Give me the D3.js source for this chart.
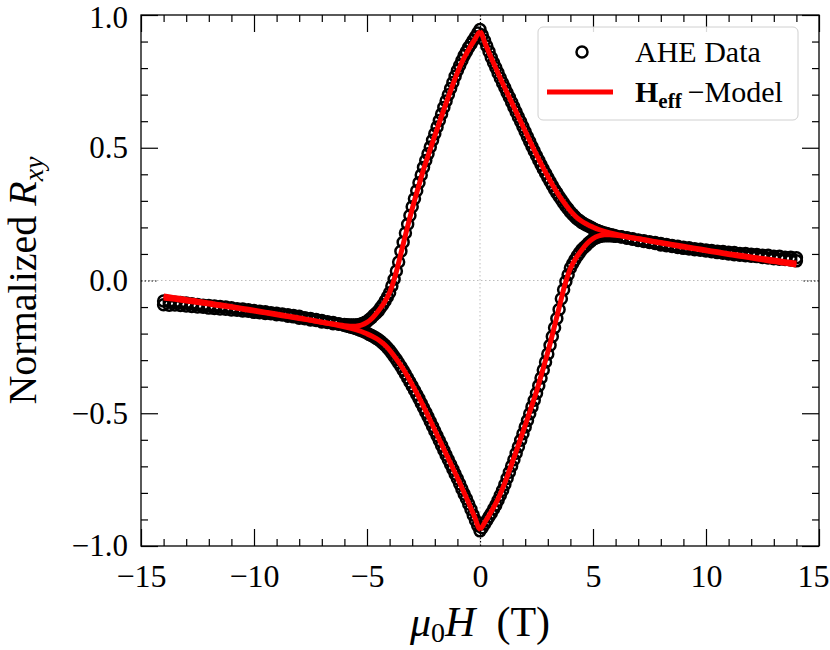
<!DOCTYPE html>
<html>
<head>
<meta charset="utf-8">
<script src="https://cdn.jsdelivr.net/npm/d3@7"></script>
<style>
  body { margin: 0; background: #fff; }
  text { font-family: "Liberation Serif", "Times New Roman", serif; fill: #000; }
</style>
</head>
<body>
<svg></svg>
<script>
// field values (T) for the measured points
let field = [-14,-13.75,-13.5,-13.25,-13,-12.75,-12.5,-12.25,-12,-11.75,-11.5,-11.25,-11,-10.75,-10.5,-10.25,-10,-9.75,-9.5,-9.25,-9,-8.75,-8.5,-8.25,-8,-7.75,-7.5,-7.25,-7,-6.75,-6.5,-6.25,
  -6,-5.9,-5.8,-5.7,-5.6,-5.5,-5.4,-5.3,-5.2,-5.1,-5,-4.9,-4.8,-4.7,-4.6,-4.5,-4.4,-4.3,-4.2,-4.1,-4,-3.9,-3.8,-3.7,-3.6,-3.5,-3.4,-3.3,-3.2,-3.1,-3,-2.9,-2.8,-2.7,-2.6,-2.5,-2.4,-2.3,-2.2,-2.1,-2,-1.9,-1.8,-1.7,-1.6,-1.5,-1.4,-1.3,-1.2,-1.1,-1,-0.9,-0.8,-0.7,-0.6,-0.5,-0.4,-0.3,-0.2,-0.1,
  0,0.1,0.2,0.3,0.4,0.5,0.6,0.7,0.8,0.9,1,1.1,1.2,1.3,1.4,1.5,1.6,1.7,1.8,1.9,2,2.1,2.2,2.3,2.4,2.5,2.6,2.7,2.8,2.9,3,3.1,3.2,3.3,3.4,3.5,3.6,3.7,3.8,3.9,4,4.1,4.2,4.3,4.4,4.5,4.6,4.7,4.8,4.9,5,5.1,5.2,5.3,5.4,5.5,5.6,5.7,5.8,5.9,6,
  6.25,6.5,6.75,7,7.25,7.5,7.75,8,8.25,8.5,8.75,9,9.25,9.5,9.75,10,10.25,10.5,10.75,11,11.25,11.5,11.75,12,12.25,12.5,12.75,13,13.25,13.5,13.75,14]

// AHE data, sweep from +14 T down to -14 T
let rxyDown = [-0.077,-0.080,-0.082,-0.083,-0.085,-0.088,-0.090,-0.093,-0.094,-0.096,-0.098,-0.100,-0.103,-0.106,-0.107,-0.110,-0.113,-0.116,-0.118,-0.121,-0.123,-0.126,-0.129,-0.132,-0.135,-0.140,-0.143,-0.147,-0.151,-0.155,-0.158,-0.163,
  -0.166,-0.167,-0.168,-0.168,-0.168,-0.168,-0.167,-0.165,-0.162,-0.158,-0.154,-0.147,-0.140,-0.131,-0.123,-0.115,-0.103,-0.091,-0.077,-0.062,-0.046,-0.021,0.005,0.036,0.070,0.110,0.144,0.179,0.212,0.245,0.278,0.308,0.338,0.368,0.397,0.426,0.452,0.477,0.503,0.528,0.553,0.578,0.603,0.627,0.652,0.676,0.700,0.723,0.746,0.769,0.791,0.810,0.829,0.847,0.862,0.878,0.891,0.905,0.918,0.932,
  0.945,0.925,0.904,0.883,0.862,0.840,0.820,0.801,0.782,0.763,0.744,0.726,0.707,0.690,0.671,0.653,0.635,0.616,0.598,0.579,0.560,0.541,0.523,0.505,0.488,0.470,0.453,0.436,0.420,0.404,0.388,0.373,0.358,0.343,0.330,0.316,0.304,0.292,0.280,0.269,0.258,0.249,0.240,0.232,0.226,0.219,0.214,0.209,0.205,0.201,0.196,0.191,0.188,0.185,0.182,0.179,0.177,0.174,0.172,0.170,0.168,
  0.165,0.161,0.157,0.153,0.150,0.146,0.143,0.139,0.136,0.132,0.129,0.125,0.123,0.120,0.118,0.115,0.113,0.110,0.109,0.106,0.105,0.102,0.102,0.099,0.098,0.095,0.095,0.091,0.091,0.088,0.088,0.086]

// AHE data, sweep from -14 T up to +14 T
let rxyUp = [-0.091,-0.093,-0.092,-0.094,-0.096,-0.098,-0.100,-0.101,-0.104,-0.105,-0.107,-0.108,-0.111,-0.112,-0.115,-0.116,-0.120,-0.121,-0.124,-0.125,-0.129,-0.130,-0.135,-0.137,-0.142,-0.144,-0.149,-0.151,-0.156,-0.158,-0.163,-0.165,
  -0.169,-0.171,-0.173,-0.176,-0.178,-0.181,-0.184,-0.187,-0.190,-0.194,-0.198,-0.203,-0.207,-0.212,-0.217,-0.222,-0.229,-0.236,-0.244,-0.253,-0.263,-0.274,-0.286,-0.298,-0.311,-0.324,-0.338,-0.352,-0.367,-0.382,-0.397,-0.413,-0.429,-0.445,-0.462,-0.479,-0.496,-0.513,-0.531,-0.549,-0.567,-0.585,-0.603,-0.621,-0.639,-0.657,-0.675,-0.693,-0.711,-0.729,-0.747,-0.766,-0.785,-0.804,-0.822,-0.842,-0.862,-0.883,-0.904,-0.924,
  -0.943,-0.931,-0.917,-0.904,-0.890,-0.877,-0.861,-0.846,-0.828,-0.809,-0.790,-0.768,-0.745,-0.722,-0.699,-0.675,-0.651,-0.626,-0.602,-0.577,-0.552,-0.527,-0.502,-0.476,-0.451,-0.425,-0.396,-0.367,-0.337,-0.307,-0.277,-0.244,-0.211,-0.178,-0.143,-0.109,-0.069,-0.035,-0.004,0.022,0.047,0.063,0.078,0.092,0.104,0.116,0.124,0.132,0.141,0.148,0.155,0.159,0.163,0.166,0.168,0.169,0.169,0.169,0.169,0.168,0.167,
  0.164,0.159,0.155,0.151,0.147,0.143,0.139,0.134,0.131,0.128,0.124,0.121,0.119,0.116,0.114,0.111,0.108,0.105,0.103,0.100,0.097,0.095,0.093,0.091,0.090,0.087,0.085,0.082,0.080,0.079,0.077,0.074]

// H_eff model curves
let modelField = [-14,-13.5,-13,-12.5,-12,-11.5,-11,-10.5,-10,-9.5,-9,-8.5,-8,-7.5,-7,-6.5,
  -6,-5.75,-5.5,-5.25,-5,-4.75,-4.5,-4.25,-4,-3.75,-3.5,-3.25,-3,-2.75,-2.5,-2.25,-2,-1.75,-1.5,-1.25,-1,-0.75,-0.5,-0.25,
  0,0.25,0.5,0.75,1,1.25,1.5,1.75,2,2.25,2.5,2.75,3,3.25,3.5,3.75,4,4.25,4.5,4.75,5,5.25,5.5,5.75,6,
  6.5,7,7.5,8,8.5,9,9.5,10,10.5,11,11.5,12,12.5,13,13.5,14]

let modelDown = [-0.058,-0.065,-0.071,-0.078,-0.085,-0.091,-0.098,-0.105,-0.112,-0.119,-0.126,-0.134,-0.141,-0.149,-0.157,-0.164,
  -0.170,-0.172,-0.172,-0.168,-0.158,-0.140,-0.115,-0.085,-0.045,0.018,0.102,0.188,0.270,0.345,0.418,0.482,0.545,0.607,0.668,0.727,0.783,0.831,0.870,0.905,
  0.936,0.888,0.838,0.790,0.743,0.698,0.653,0.608,0.563,0.518,0.474,0.432,0.392,0.354,0.320,0.290,0.262,0.240,0.223,0.211,0.201,0.192,0.185,0.179,0.174,
  0.165,0.157,0.150,0.143,0.136,0.129,0.122,0.115,0.108,0.101,0.095,0.089,0.083,0.077,0.071,0.066]

let modelUp = [-0.066,-0.071,-0.077,-0.083,-0.089,-0.095,-0.101,-0.108,-0.115,-0.122,-0.129,-0.136,-0.143,-0.150,-0.157,-0.165,
  -0.174,-0.179,-0.185,-0.192,-0.201,-0.211,-0.223,-0.240,-0.262,-0.290,-0.320,-0.354,-0.392,-0.432,-0.474,-0.518,-0.563,-0.608,-0.653,-0.698,-0.743,-0.790,-0.838,-0.888,
  -0.936,-0.905,-0.870,-0.831,-0.783,-0.727,-0.668,-0.607,-0.545,-0.482,-0.418,-0.345,-0.270,-0.188,-0.102,-0.018,0.045,0.085,0.115,0.140,0.158,0.168,0.172,0.172,0.170,
  0.164,0.157,0.149,0.141,0.134,0.126,0.119,0.112,0.105,0.098,0.091,0.085,0.078,0.071,0.065,0.058]

let xTicks = [-15, -10, -5, 0, 5, 10, 15]
let yTicks = [-1, -0.5, 0, 0.5, 1]

let svgWidth = 830,
    svgHeight = 650,
    margin = {left: 141, top: 15, right: 11, bottom: 104},
    width = svgWidth - margin.left - margin.right,
    height = svgHeight - margin.top - margin.bottom

let svg = d3.select('svg')
    .attr('width', svgWidth)
    .attr('height', svgHeight)

let g = svg.append('g')
    .attr('transform', `translate(${margin.left}, ${margin.top})`)

let x = d3.scaleLinear().domain([-15, 15]).range([0, width])
let y = d3.scaleLinear().domain([-1, 1]).range([height, 0])

// dotted zero lines
g.append('line')
    .attr('x1', 0).attr('x2', width)
    .attr('y1', y(0)).attr('y2', y(0))
    .attr('stroke', '#bdbdbd').attr('stroke-width', 1).attr('stroke-dasharray', '1.5,2.5')
g.append('line')
    .attr('x1', x(0)).attr('x2', x(0))
    .attr('y1', 0).attr('y2', height)
    .attr('stroke', '#bdbdbd').attr('stroke-width', 1).attr('stroke-dasharray', '1.5,2.5')

// data circles
let points = d3.zip(field, rxyDown).concat(d3.zip(field, rxyUp))
g.append('g').selectAll('circle')
    .data(points)
    .enter()
    .append('circle')
    .attr('cx', d => x(d[0]))
    .attr('cy', d => y(d[1]))
    .attr('r', 5.5)
    .attr('fill', 'none')
    .attr('stroke', '#000')
    .attr('stroke-width', 2.5)

// model lines
let line = d3.line()
    .x(d => x(d[0]))
    .y(d => y(d[1]))
    .curve(d3.curveCatmullRom)

;[modelDown, modelUp].forEach(vals => {
    g.append('path')
        .datum(d3.zip(modelField, vals))
        .attr('d', line)
        .attr('fill', 'none')
        .attr('stroke', '#ff0000')
        .attr('stroke-width', 5)
})

// axes, ticks pointing inward on all four sides
let fmtY = d3.format('.1f')
let xMinor = x.ticks(30).filter(v => v % 5 !== 0)
let yMinor = y.ticks(20).filter(v => Math.abs(v * 2 - Math.round(v * 2)) > 1e-6)

function styleAxis(sel) {
    sel.select('.domain').remove()
    sel.selectAll('.tick line').attr('stroke', '#000').attr('stroke-width', 1.2)
    sel.selectAll('.tick text').style('font-size', '32px').attr('fill', '#000')
    sel.selectAll('.tick').filter(d => d === 0).select('line').attr('stroke-dasharray', '1.5,2')
}

let xAxis = g.append('g').attr('transform', `translate(0, ${height})`)
    .call(d3.axisBottom(x).tickValues(xTicks).tickSize(-17).tickPadding(18))
    .call(styleAxis)
// keep the last label inside the picture, as in the reference
xAxis.selectAll('.tick').filter(d => d === 15).select('text')
    .attr('text-anchor', 'end').attr('x', svgWidth - 1 - margin.left - width)

g.append('g').attr('transform', `translate(0, ${height})`)
    .call(d3.axisBottom(x).tickValues(xMinor).tickSize(-7).tickFormat(''))
    .call(styleAxis)
g.append('g')
    .call(d3.axisTop(x).tickValues(xTicks).tickSize(-17).tickFormat(''))
    .call(styleAxis)
g.append('g')
    .call(d3.axisTop(x).tickValues(xMinor).tickSize(-7).tickFormat(''))
    .call(styleAxis)

let yAxis = g.append('g')
    .call(d3.axisLeft(y).tickValues(yTicks).tickSize(-17).tickPadding(13).tickFormat(fmtY))
    .call(styleAxis)
yAxis.selectAll('.tick text').style('font-size', '31px')
// top label nudged down so it stays inside the picture
yAxis.selectAll('.tick').filter(d => d === 1).select('text').attr('y', 3)

g.append('g')
    .call(d3.axisLeft(y).tickValues(yMinor).tickSize(-7).tickFormat(''))
    .call(styleAxis)
g.append('g').attr('transform', `translate(${width}, 0)`)
    .call(d3.axisRight(y).tickValues(yTicks).tickSize(-17).tickFormat(''))
    .call(styleAxis)
g.append('g').attr('transform', `translate(${width}, 0)`)
    .call(d3.axisRight(y).tickValues(yMinor).tickSize(-7).tickFormat(''))
    .call(styleAxis)

// frame
g.append('rect')
    .attr('width', width).attr('height', height)
    .attr('fill', 'none').attr('stroke', '#000').attr('stroke-width', 1.3)

// axis labels
let xl = svg.append('text')
    .attr('x', margin.left + x(0)).attr('y', 636)
    .attr('text-anchor', 'middle')
    .style('font-size', '42px')
xl.append('tspan').style('font-style', 'italic').text('μ')
xl.append('tspan').attr('dy', 6).style('font-size', '28px').text('0')
xl.append('tspan').attr('dy', -6).style('font-style', 'italic').text('H')
xl.append('tspan').text('\u2002(T)')

let yl = svg.append('text')
    .attr('transform', `translate(36, ${margin.top + y(0)}) rotate(-90)`)
    .attr('text-anchor', 'middle')
    .style('font-size', '40px')
yl.append('tspan').text('Normalized ')
yl.append('tspan').style('font-style', 'italic').text('R')
yl.append('tspan').attr('dy', 7).style('font-style', 'italic').style('font-size', '28px').text('xy')

// legend
let lg = svg.append('g')
lg.append('rect')
    .attr('x', 538).attr('y', 27).attr('width', 260).attr('height', 93).attr('rx', 5)
    .attr('fill', '#fff').attr('fill-opacity', 0.85)
    .attr('stroke', '#d0d0d0').attr('stroke-width', 1)
lg.append('circle')
    .attr('cx', 582).attr('cy', 52).attr('r', 5.5)
    .attr('fill', 'none').attr('stroke', '#000').attr('stroke-width', 2.5)
lg.append('text').attr('x', 635).attr('y', 62).style('font-size', '30px').text('AHE Data')
lg.append('line')
    .attr('x1', 547).attr('x2', 613).attr('y1', 92).attr('y2', 92)
    .attr('stroke', '#ff0000').attr('stroke-width', 5)
let lt = lg.append('text').attr('x', 635).attr('y', 102).style('font-size', '30px')
lt.append('tspan').style('font-weight', 'bold').text('H')
lt.append('tspan').attr('dy', 6).style('font-weight', 'bold').style('font-size', '21px').text('eff')
lt.append('tspan').attr('dy', -6).text('\u2009\u2212Model')
</script>
</body>
</html>
